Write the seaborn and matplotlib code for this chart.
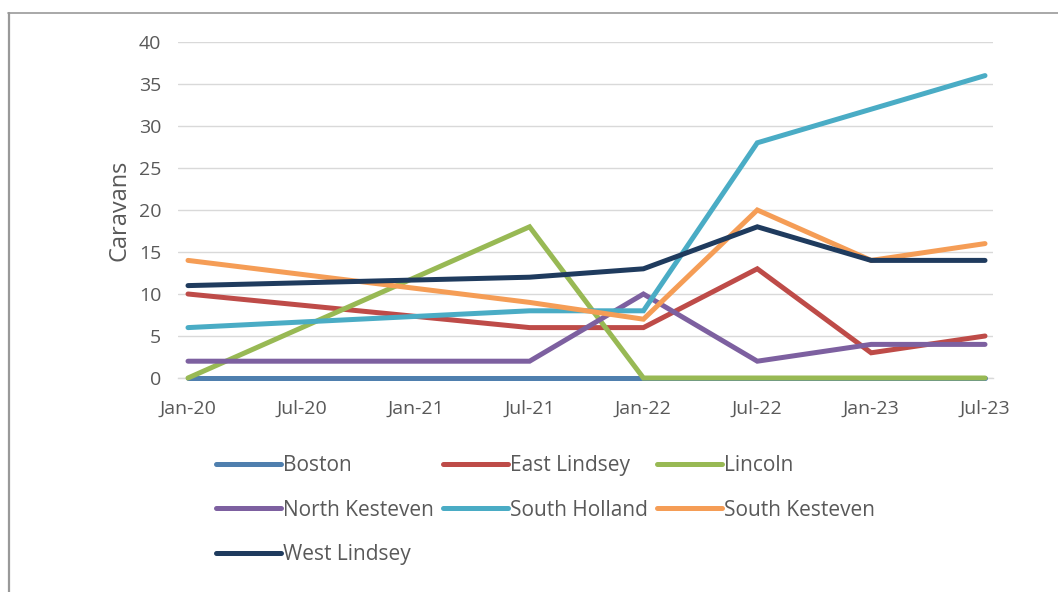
import matplotlib
matplotlib.use("Agg")
import matplotlib.pyplot as plt
from matplotlib.lines import Line2D
import seaborn as sns
import pandas as pd

# Half-year periods on the x axis
periods = ["Jan-20", "Jul-20", "Jan-21", "Jul-21", "Jan-22", "Jul-22", "Jan-23", "Jul-23"]
# Periods that carry a recorded count (indices into `periods`)
obs_idx = [0, 3, 4, 5, 6, 7]

boston = [0, 0, 0, 0, 0, 0]
east_lindsey = [10, 6, 6, 13, 3, 5]
lincoln = [0, 18, 0, 0, 0, 0]
north_kesteven = [2, 2, 10, 2, 4, 4]
south_holland = [6, 8, 8, 28, 32, 36]
south_kesteven = [14, 9, 7, 20, 14, 16]
west_lindsey = [11, 12, 13, 18, 14, 14]

districts = ["Boston", "East Lindsey", "Lincoln", "North Kesteven",
             "South Holland", "South Kesteven", "West Lindsey"]
values = [boston, east_lindsey, lincoln, north_kesteven,
          south_holland, south_kesteven, west_lindsey]
colors = ["#4f7fae", "#be4b48", "#98b954", "#7d60a0",
          "#4aacc5", "#f59d56", "#1f3b5e"]

rows = []
for name, vals in zip(districts, values):
    for i, v in zip(obs_idx, vals):
        rows.append({"period": i, "caravans": v, "district": name})
df = pd.DataFrame(rows)

sns.set_theme(style="white")
plt.rcParams["font.family"] = ["Open Sans", "DejaVu Sans"]
text_col = "#595959"

fig = plt.figure(figsize=(10.58, 5.92), dpi=100)
ax = fig.add_axes([178 / 1058, 1 - 378 / 592, (993 - 178) / 1058, (378 - 42) / 592])

sns.lineplot(data=df, x="period", y="caravans", hue="district",
             hue_order=districts, palette=colors, linewidth=3.6,
             ax=ax, legend=False, sort=True, estimator=None)
for k, ln in enumerate(ax.lines):
    ln.set_clip_on(False)
    ln.set_solid_capstyle("round")
    ln.set_solid_joinstyle("miter")
    ln.set_zorder(3 + k * 0.01)

ax.set_xlim(-10 / 113.9, 7 + 8 / 113.9)
ax.set_ylim(0, 40)
ax.set_yticks(range(0, 41, 5))
ax.set_xticks(range(len(periods)))
ax.set_xticklabels(periods)
ax.yaxis.grid(True, color="#d9d9d9", linewidth=1.0)
ax.xaxis.grid(False)
for side in ["top", "right", "left"]:
    ax.spines[side].set_visible(False)
ax.spines["bottom"].set_color("#d9d9d9")
ax.spines["bottom"].set_linewidth(1.0)
ax.spines["bottom"].set_zorder(1)
ax.tick_params(axis="both", length=0, labelsize=14, colors=text_col)
ax.tick_params(axis="x", pad=16)
ax.tick_params(axis="y", pad=12)
ax.set_xlabel("")
ax.set_ylabel("Caravans", fontsize=17, color=text_col, labelpad=5)

# Legend laid out row by row in three columns
order = [0, 3, 6, 1, 4, 2, 5]
handles = [Line2D([], [], color=colors[i], linewidth=3.6, solid_capstyle="round")
           for i in order]
labels = [districts[i] for i in order]
leg = fig.legend(handles, labels, ncol=3, loc="upper left",
                 bbox_to_anchor=(208 / 1058, 1 - 447 / 592), frameon=False,
                 fontsize=15, handlelength=3.1, handletextpad=0.1,
                 columnspacing=0.45, labelspacing=1.12, borderaxespad=0)
for t in leg.get_texts():
    t.set_color(text_col)

# Outer chart frame
fig.add_artist(Line2D([8 / 1058, 1], [1 - 12.5 / 592] * 2, transform=fig.transFigure,
                      color="#999999", linewidth=1.2))
fig.add_artist(Line2D([9 / 1058] * 2, [0, 1 - 12.5 / 592], transform=fig.transFigure,
                      color="#999999", linewidth=1.6))

fig.savefig("out.png", dpi=100)
